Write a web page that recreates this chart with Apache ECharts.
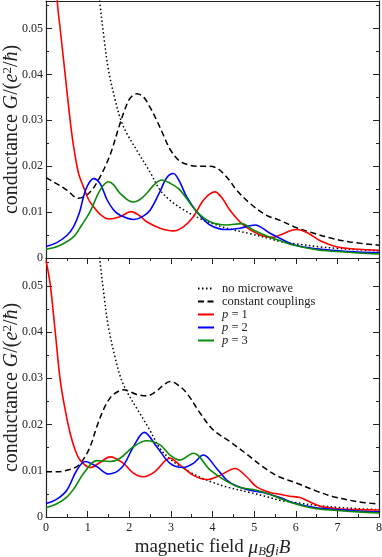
<!DOCTYPE html>
<html>
<head>
<meta charset="utf-8">
<script src="https://cdn.jsdelivr.net/npm/echarts@6/dist/echarts.min.js"></script>
<style>
    html, body { margin: 0; padding: 0; background: #fff; }
    #chart { width: 382px; height: 557px; }
</style>
</head>
<body>
<div id="chart"></div>
<script>
// series names, also used for the legend
let names = ['no microwave', 'constant couplings', 'p = 1', 'p = 2', 'p = 3'];

// x = magnetic field, y = conductance
let noMicrowave = [
    [1.15, 0.07], [1.29, 0.056], [1.4, 0.0475], [1.5, 0.041], [1.66, 0.0345], [1.8, 0.030],
    [1.95, 0.027], [2.2, 0.0232], [2.5, 0.0187], [2.74, 0.0148], [3.0, 0.0124], [3.22, 0.011],
    [3.5, 0.0095], [3.7, 0.0086], [4.0, 0.0075], [4.34, 0.0065], [4.9, 0.0053], [5.3, 0.0044],
    [5.62, 0.0036], [6.0, 0.0031], [6.6, 0.0024], [7.0, 0.0021], [7.5, 0.0018], [8.0, 0.0016]
];

// upper panel
let topConst = [
    [0, 0.0175], [0.2, 0.0165], [0.5, 0.0148], [0.78, 0.013], [1.06, 0.0144], [1.3, 0.0177],
    [1.45, 0.0205], [1.58, 0.0235], [1.75, 0.0285], [1.9, 0.0325], [2.02, 0.0348], [2.18, 0.0358],
    [2.35, 0.035], [2.5, 0.0328], [2.66, 0.030], [2.82, 0.0268], [2.98, 0.0237], [3.2, 0.0212],
    [3.46, 0.0202], [3.7, 0.02], [3.94, 0.02], [4.1, 0.0196], [4.22, 0.0188], [4.4, 0.017],
    [4.58, 0.0148], [4.9, 0.0119], [5.3, 0.0093], [5.62, 0.0082], [6.02, 0.0066], [6.4, 0.0055],
    [6.82, 0.0044], [7.3, 0.0035], [8.0, 0.0028]
];
let topP1 = [
    [0.2, 0.07], [0.27, 0.056], [0.34, 0.05], [0.46, 0.04], [0.58, 0.03], [0.66, 0.0245],
    [0.78, 0.0185], [0.9, 0.0155], [1.02, 0.0128], [1.14, 0.0112], [1.3, 0.0095], [1.5, 0.0085],
    [1.78, 0.009], [2.04, 0.0101], [2.25, 0.0092], [2.42, 0.0079], [2.74, 0.0065], [3.06, 0.0059],
    [3.3, 0.0068], [3.54, 0.009], [3.8, 0.0128], [4.06, 0.0144], [4.25, 0.0128], [4.42, 0.0104],
    [4.74, 0.0072], [5.14, 0.005], [5.46, 0.0045], [5.62, 0.005], [6.02, 0.0062], [6.3, 0.0054],
    [6.6, 0.0037], [7.0, 0.0024], [7.5, 0.0019], [8.0, 0.0017]
];
let topP2 = [
    [0, 0.0025], [0.25, 0.0033], [0.5, 0.0049], [0.66, 0.0068], [0.8, 0.0098], [0.9, 0.0133],
    [1.0, 0.0158], [1.14, 0.0173], [1.3, 0.0162], [1.46, 0.0128], [1.62, 0.0105], [1.78, 0.0093],
    [2.1, 0.0084], [2.3, 0.0089], [2.5, 0.0104], [2.74, 0.0145], [2.9, 0.0175], [3.06, 0.0184],
    [3.2, 0.0168], [3.38, 0.0133], [3.62, 0.0101], [3.94, 0.0072], [4.34, 0.0062], [4.66, 0.0065],
    [5.02, 0.0072], [5.38, 0.0054], [5.62, 0.0043], [5.95, 0.0029], [6.5, 0.002], [7.0, 0.0016],
    [7.5, 0.0013], [8.0, 0.0012]
];
let topP3 = [
    [0, 0.0019], [0.3, 0.0026], [0.66, 0.0046], [0.86, 0.0072], [1.06, 0.0101], [1.3, 0.0148],
    [1.5, 0.0166], [1.62, 0.016], [1.78, 0.0141], [2.09, 0.0122], [2.25, 0.0127], [2.42, 0.0141],
    [2.6, 0.016], [2.78, 0.017], [2.98, 0.0163], [3.22, 0.0148], [3.62, 0.0101], [3.94, 0.0079],
    [4.34, 0.0072], [4.7, 0.0075], [4.98, 0.0061], [5.38, 0.0045], [5.62, 0.0038], [5.86, 0.003],
    [6.5, 0.0018], [7.0, 0.0014], [7.5, 0.0011], [8.0, 0.0009]
];

// lower panel
let botConst = [
    [0, 0.0098], [0.25, 0.0098], [0.46, 0.01], [0.74, 0.0109], [0.9, 0.0125], [1.06, 0.0152],
    [1.22, 0.0195], [1.38, 0.0232], [1.5, 0.0252], [1.62, 0.0265], [1.86, 0.0275], [2.18, 0.0265],
    [2.42, 0.0262], [2.62, 0.027], [2.82, 0.0285], [2.98, 0.0293], [3.15, 0.0287], [3.38, 0.0268],
    [3.7, 0.0225], [4.02, 0.0188], [4.42, 0.0163], [4.82, 0.0136], [5.25, 0.0106], [5.6, 0.0087],
    [6.0, 0.0074], [6.5, 0.0056], [6.9, 0.0044], [7.5, 0.0033], [8.0, 0.0028]
];
let botP1 = [
    [0, 0.0555], [0.1, 0.0504], [0.22, 0.0402], [0.34, 0.0297], [0.46, 0.0232], [0.58, 0.0181],
    [0.7, 0.0145], [0.82, 0.0123], [1.06, 0.0107], [1.3, 0.0118], [1.54, 0.013], [1.86, 0.0116],
    [2.1, 0.0095], [2.34, 0.0087], [2.6, 0.0097], [2.98, 0.0127], [3.22, 0.0112], [3.54, 0.009],
    [3.86, 0.0081], [4.18, 0.009], [4.54, 0.0105], [4.82, 0.0087], [5.06, 0.0065], [5.38, 0.0053],
    [5.62, 0.0049], [5.86, 0.0045], [6.1, 0.0042], [6.35, 0.0032], [6.6, 0.0023], [7.0, 0.0018],
    [7.5, 0.0016], [8.0, 0.0015]
];
let botP2 = [
    [0, 0.0029], [0.25, 0.0038], [0.5, 0.0058], [0.74, 0.0101], [0.94, 0.012], [1.22, 0.0109],
    [1.5, 0.0093], [1.82, 0.0107], [2.1, 0.0152], [2.36, 0.0183], [2.66, 0.0152], [2.98, 0.0116],
    [3.3, 0.0107], [3.54, 0.0116], [3.78, 0.0134], [4.1, 0.0105], [4.34, 0.008], [4.58, 0.0067],
    [4.9, 0.0058], [5.3, 0.0051], [5.62, 0.0042], [6.0, 0.0029], [6.5, 0.002], [7.0, 0.0016],
    [7.5, 0.0013], [8.0, 0.0011]
];
let botP3 = [
    [0, 0.002], [0.25, 0.0028], [0.5, 0.0043], [0.7, 0.0065], [0.9, 0.0094], [1.22, 0.0122],
    [1.54, 0.012], [1.78, 0.0127], [2.1, 0.0152], [2.42, 0.0165], [2.74, 0.0156], [2.98, 0.0134],
    [3.22, 0.0123], [3.54, 0.0138], [3.94, 0.0102], [4.34, 0.0077], [4.66, 0.0064], [5.06, 0.0058],
    [5.38, 0.0049], [5.62, 0.004], [5.9, 0.0031], [6.42, 0.0019], [7.0, 0.0014], [7.5, 0.0011],
    [8.0, 0.0009]
];

let font = 'Liberation Serif';
let ink = '#222';

function yLabel(v) {
    let k = Math.round(v * 100);
    if (Math.abs(v * 100 - k) > 1e-6) {
        return '';
    }
    return k === 0 ? '0' : (k / 100).toFixed(2);
}

let nameRich = {
    r: {fontFamily: font, fontSize: 20, color: ink, lineHeight: 22},
    i: {fontFamily: font, fontSize: 20, color: ink, fontStyle: 'italic', lineHeight: 22},
    s: {fontFamily: font, fontSize: 13, color: ink, lineHeight: 13, verticalAlign: 'top'}
};
let xRich = {
    r: {fontFamily: font, fontSize: 19, color: ink, lineHeight: 21},
    i: {fontFamily: font, fontSize: 19, color: ink, fontStyle: 'italic', lineHeight: 21},
    b: {fontFamily: font, fontSize: 12.5, color: ink, fontStyle: 'italic', lineHeight: 11, verticalAlign: 'bottom'}
};

function makeX(grid, pos, ticks, labels) {
    return {
        type: 'value',
        gridIndex: grid,
        position: pos,
        min: 0,
        max: 8,
        interval: 1,
        axisLine: {onZero: false, lineStyle: {color: ink, width: 1.2}},
        axisTick: {show: ticks, inside: true, length: 6, lineStyle: {color: ink}},
        minorTick: {show: ticks, splitNumber: 2, length: 3, lineStyle: {color: ink}},
        splitLine: {show: false},
        axisLabel: {show: labels, margin: 5, fontFamily: font, fontSize: 12, color: ink}
    };
}

function makeY(grid, pos, labels) {
    return {
        type: 'value',
        gridIndex: grid,
        position: pos,
        min: 0,
        max: 0.056,
        interval: 0.01,
        axisLine: {onZero: false, lineStyle: {color: ink, width: 1.2}},
        axisTick: {inside: true, length: 6, lineStyle: {color: ink}},
        minorTick: {show: true, splitNumber: 2, length: 3, lineStyle: {color: ink}},
        splitLine: {show: false},
        axisLabel: {show: labels, margin: 3, fontFamily: font, fontSize: 12, color: ink, formatter: yLabel}
    };
}

let xAxes = [makeX(0, 'bottom', false, false), makeX(0, 'top', false, false),
    makeX(1, 'bottom', true, true), makeX(1, 'top', true, false)];
xAxes[2].name = '{r|magnetic field }{i|μ}{b|B}{i|g}{b|i}{i|B}';
xAxes[2].nameLocation = 'middle';
xAxes[2].nameGap = 20;
xAxes[2].nameMoveOverlap = false;
xAxes[2].nameTextStyle = {rich: xRich};

let yAxes = [makeY(0, 'left', true), makeY(0, 'right', false),
    makeY(1, 'left', true), makeY(1, 'right', false)];
let yName = '{r|conductance }{i|G}{r|/(}{i|e}{s|2}{r|/}{i|ħ}{r|)}';
[0, 2].forEach(function (k) {
    yAxes[k].name = yName;
    yAxes[k].nameLocation = 'middle';
    yAxes[k].nameGap = 23;
    yAxes[k].nameRotate = 90;
    yAxes[k].nameMoveOverlap = false;
    yAxes[k].nameTextStyle = {rich: nameRich};
});

function line(name, data, axis, color, type, width) {
    return {
        name: name,
        type: 'line',
        xAxisIndex: axis,
        yAxisIndex: axis,
        data: data,
        smooth: 0.35,
        symbol: 'none',
        clip: true,
        silent: true,
        lineStyle: {color: color, type: type, width: width},
        itemStyle: {color: color}
    };
}

let dots = [1.5, 2.5];
let dashes = [6, 3.5];
let red = '#ff0000', blue = '#0000ff', green = '#0a8a0a';

let chart = echarts.init(document.getElementById('chart'));
chart.setOption({
    animation: false,
    backgroundColor: '#fff',
    grid: [
        {left: 46, right: 3, top: 1, height: 257, containLabel: false, outerBoundsMode: 'none'},
        {left: 46, right: 3, top: 258, height: 259, containLabel: false, outerBoundsMode: 'none'}
    ],
    legend: {
        data: names,
        orient: 'vertical',
        left: 197,
        top: 282,
        padding: 0,
        itemWidth: 16,
        itemHeight: 8,
        itemGap: 0,
        selectedMode: false,
        itemStyle: {opacity: 0, borderWidth: 0},
        textStyle: {
            fontFamily: font, fontSize: 12.5, lineHeight: 12, color: ink, padding: [0, 0, 0, 3],
            rich: {i: {fontFamily: font, fontSize: 12.5, lineHeight: 12, color: ink, fontStyle: 'italic'}}
        },
        formatter: function (n) {
            return n.indexOf('p = ') === 0 ? '{i|p} = ' + n.slice(4) : n;
        }
    },
    xAxis: xAxes,
    yAxis: yAxes,
    series: [
        line(names[0], noMicrowave, 0, '#000', dots, 1.5),
        line(names[1], topConst, 0, '#000', dashes, 1.5),
        line(names[2], topP1, 0, red, 'solid', 1.6),
        line(names[3], topP2, 0, blue, 'solid', 1.6),
        line(names[4], topP3, 0, green, 'solid', 1.6),
        line(names[0], noMicrowave, 2, '#000', dots, 1.5),
        line(names[1], botConst, 2, '#000', dashes, 1.5),
        line(names[2], botP1, 2, red, 'solid', 1.6),
        line(names[3], botP2, 2, blue, 'solid', 1.6),
        line(names[4], botP3, 2, green, 'solid', 1.6)
    ]
});
</script>
</body>
</html>
